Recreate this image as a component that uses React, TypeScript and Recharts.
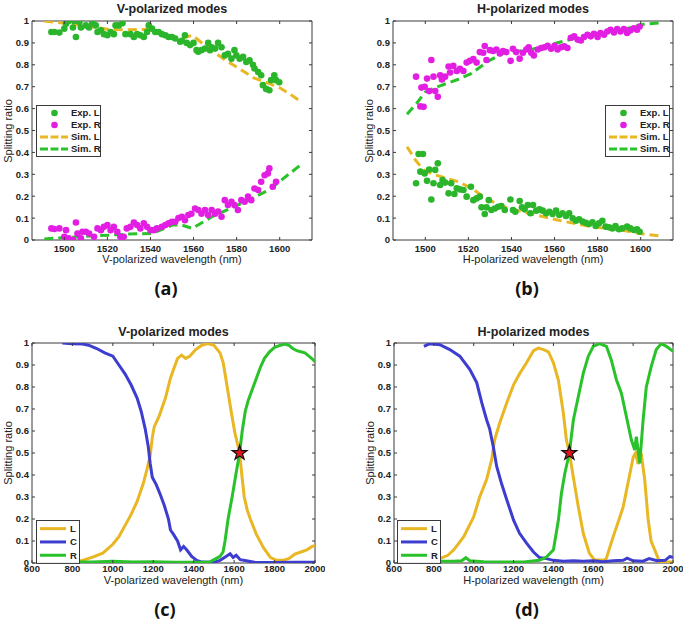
import { ComposedChart, Line, Scatter, XAxis, YAxis, ReferenceArea } from "recharts";

type Pt = [number, number];

// ---- (a) V-polarized, experiment vs simulation ----
const aExpL: Pt[] = [
  [1494, 0.95], [1495.4, 0.95], [1497.7, 0.947], [1500, 0.965], [1500.8, 0.988], [1502, 1.0], [1504, 0.97],
  [1505.4, 0.927], [1504.6, 1.0], [1507, 0.995], [1507.7, 0.97], [1510, 0.98], [1511.5, 0.97], [1513, 0.99],
  [1514.6, 0.98], [1515.4, 0.95], [1517, 0.957], [1518.4, 0.94], [1520, 0.935], [1521.5, 0.95], [1523, 0.94],
  [1523.8, 0.98], [1525.3, 0.98], [1527, 0.99], [1528.4, 0.94], [1530.7, 0.94], [1532.3, 0.927], [1533.8, 0.94],
  [1535.3, 0.935], [1536.9, 0.927], [1538.4, 0.95], [1539.2, 0.98], [1540.7, 0.965], [1542.2, 0.95], [1543.8, 0.95],
  [1545.3, 0.94], [1546.9, 0.935], [1548.4, 0.927], [1550, 0.927], [1551.5, 0.92], [1553.8, 0.905], [1554.6, 0.91],
  [1556, 0.935], [1556.8, 0.9], [1558.4, 0.89], [1560, 0.9], [1561.4, 0.867], [1562.2, 0.86], [1563.7, 0.867],
  [1565.3, 0.874], [1566.8, 0.9], [1567.6, 0.867], [1568.4, 0.88], [1570, 0.874], [1571.4, 0.9], [1573, 0.88],
  [1574.5, 0.843], [1576, 0.85], [1577.6, 0.828], [1579, 0.867], [1579.9, 0.843], [1581.4, 0.828], [1583, 0.836],
  [1584.5, 0.813], [1586, 0.82], [1587.6, 0.8], [1588.3, 0.783], [1590, 0.767], [1591.4, 0.752], [1592.2, 0.707],
  [1593.7, 0.69], [1595.2, 0.684], [1596, 0.73], [1597.5, 0.752], [1598.3, 0.73], [1599.8, 0.72],
];
const aExpR: Pt[] = [
  [1494, 0.053], [1495.4, 0.05], [1497.7, 0.053], [1500, 0.015], [1500.8, 0.045], [1502, 0.008], [1504, 0.0],
  [1505.4, 0.08], [1506.1, 0.03], [1507.7, 0.008], [1508.4, 0.038], [1510, 0.038], [1511.5, 0.03], [1513.8, 0.015],
  [1515.4, 0.053], [1517, 0.045], [1518.4, 0.06], [1520, 0.068], [1521.5, 0.045], [1523, 0.06], [1524.6, 0.038],
  [1526, 0.015], [1527.6, 0.015], [1529, 0.053], [1530.7, 0.06], [1532.3, 0.08], [1533.8, 0.068], [1535.3, 0.053],
  [1536.9, 0.076], [1538.4, 0.06], [1540, 0.045], [1541.5, 0.045], [1543, 0.053], [1545.3, 0.06], [1546.9, 0.068],
  [1548.4, 0.076], [1550, 0.083], [1551.5, 0.083], [1553, 0.1], [1554.6, 0.106], [1556, 0.09], [1557.6, 0.114],
  [1559, 0.12], [1560.7, 0.144], [1562.2, 0.137], [1563.7, 0.12], [1565.3, 0.137], [1566.8, 0.114], [1568.4, 0.137],
  [1570, 0.12], [1571.4, 0.13], [1573, 0.106], [1574.5, 0.182], [1576, 0.16], [1577.6, 0.175], [1579, 0.16],
  [1580.6, 0.137], [1582.2, 0.182], [1583.7, 0.175], [1585.3, 0.198], [1586.8, 0.182], [1588.3, 0.235],
  [1590, 0.228], [1591.4, 0.266], [1593, 0.296], [1594.5, 0.304], [1595.2, 0.327], [1596.8, 0.243], [1598.3, 0.266],
];
const aSimL: Pt[] = [
  [1490.7, 1.0], [1500, 0.99], [1510, 0.978], [1520, 0.962], [1530, 0.96], [1539, 0.962], [1545, 0.94],
  [1550, 0.925], [1556, 0.925], [1559.5, 0.935], [1565, 0.89], [1570, 0.855], [1575, 0.82], [1580, 0.79],
  [1588, 0.74], [1595, 0.715], [1600, 0.695], [1605, 0.665], [1610, 0.63],
];
const aSimR: Pt[] = [
  [1490.7, 0.005], [1507, 0.015], [1530, 0.027], [1540.9, 0.03], [1550.1, 0.068], [1554.7, 0.068],
  [1559.4, 0.053], [1568.7, 0.107], [1584.1, 0.175], [1594.9, 0.228], [1609.6, 0.342],
];

// ---- (b) H-polarized, experiment vs simulation ----
const bExpR: Pt[] = [
  [1495.7, 0.746], [1498.2, 0.696], [1499.7, 0.7], [1497.7, 0.61], [1499.2, 0.608], [1500.8, 0.737], [1502.8, 0.822],
  [1501.8, 0.68], [1503.8, 0.746], [1504.6, 0.68], [1505.8, 0.654], [1506.9, 0.752], [1507.7, 0.733], [1509.2, 0.746],
  [1510.8, 0.792], [1511.5, 0.765], [1513, 0.795], [1514.6, 0.772], [1516.1, 0.782], [1517.7, 0.772], [1519.2, 0.81],
  [1520.7, 0.818], [1522.3, 0.826], [1523.8, 0.81], [1525.3, 0.858], [1526.9, 0.855], [1527.6, 0.886], [1528.4, 0.822],
  [1530, 0.867], [1531.5, 0.863], [1533, 0.87], [1534.6, 0.852], [1536.1, 0.863], [1537.6, 0.858], [1539.6, 0.818],
  [1540.7, 0.873], [1542.2, 0.858], [1543.8, 0.828], [1545.3, 0.855], [1546.9, 0.87], [1548, 0.88], [1549.2, 0.855],
  [1550.4, 0.843], [1552.2, 0.87], [1553.8, 0.877], [1555.3, 0.88], [1556.8, 0.887], [1558.4, 0.873], [1560, 0.887],
  [1561.4, 0.87], [1563, 0.88], [1564.5, 0.884], [1566, 0.877], [1567.6, 0.923], [1569.1, 0.93], [1570.7, 0.915],
  [1572.2, 0.911], [1573.7, 0.927], [1575.3, 0.937], [1576.8, 0.93], [1578.3, 0.942], [1580, 0.927], [1581.4, 0.945],
  [1583, 0.937], [1584.5, 0.952], [1586, 0.96], [1587.6, 0.948], [1589.1, 0.963], [1590.6, 0.952], [1592.2, 0.963],
  [1593.7, 0.945], [1595.2, 0.957], [1596.8, 0.967], [1598.3, 0.96], [1599.5, 0.975],
];
const bExpL: Pt[] = [
  [1495.7, 0.259], [1496.9, 0.393], [1498.9, 0.393], [1497.7, 0.312], [1499.7, 0.304], [1500.8, 0.27], [1501.8, 0.322],
  [1502.8, 0.185], [1503.8, 0.259], [1504.6, 0.32], [1505.8, 0.35], [1506.9, 0.251], [1508, 0.274], [1509.2, 0.262],
  [1510.8, 0.213], [1512, 0.259], [1513.5, 0.21], [1514.6, 0.236], [1516.1, 0.231], [1517.7, 0.228], [1519.2, 0.198],
  [1521.2, 0.243], [1522.3, 0.182], [1523.8, 0.19], [1525.3, 0.198], [1526.1, 0.149], [1527.6, 0.119], [1528.4, 0.149],
  [1529.5, 0.182], [1530.7, 0.137], [1532.3, 0.144], [1533.8, 0.152], [1535.3, 0.155], [1536.9, 0.137], [1539.5, 0.185],
  [1540.7, 0.137], [1541.8, 0.129], [1543.8, 0.178], [1544.9, 0.149], [1546.1, 0.14], [1547.6, 0.16], [1548.8, 0.122],
  [1550, 0.16], [1551.5, 0.134], [1553, 0.14], [1554.5, 0.134], [1556.1, 0.122], [1557.6, 0.129], [1559.1, 0.119],
  [1560.7, 0.134], [1562.2, 0.114], [1563.7, 0.122], [1565.3, 0.11], [1566.8, 0.122], [1568.4, 0.099], [1569.9, 0.088],
  [1571.4, 0.095], [1573, 0.084], [1574.5, 0.079], [1576, 0.073], [1577.6, 0.081], [1579.1, 0.064], [1580.6, 0.076],
  [1582.2, 0.088], [1583.7, 0.061], [1585.3, 0.058], [1586.8, 0.053], [1588.3, 0.064], [1589.9, 0.049], [1591.4, 0.053],
  [1593.7, 0.061], [1595.2, 0.053], [1596.8, 0.046], [1598.3, 0.049], [1599.5, 0.038],
];
const bSimL: Pt[] = [
  [1491.5, 0.426], [1495.4, 0.365], [1499.2, 0.32], [1504.6, 0.297], [1515.4, 0.266], [1521.5, 0.236],
  [1529.2, 0.183], [1538.4, 0.145], [1549.2, 0.119], [1561.4, 0.091], [1576.8, 0.061], [1592.2, 0.043],
  [1601.4, 0.027], [1609.8, 0.018],
];
const bSimR: Pt[] = [
  [1491.5, 0.574], [1496.2, 0.627], [1500, 0.676], [1504.6, 0.696], [1515.4, 0.734], [1521.5, 0.761],
  [1529.2, 0.817], [1536.9, 0.855], [1549.2, 0.87], [1561.4, 0.901], [1576.8, 0.939], [1592.2, 0.962],
  [1601.4, 0.985], [1609.8, 0.992],
];

// ---- (c) V-polarized broadband ----
const cL: Pt[] = [
  [750, 0.003], [800, 0.005], [850, 0.012], [900, 0.027], [950, 0.045], [1000, 0.085], [1030, 0.12], [1060, 0.17],
  [1090, 0.22], [1120, 0.28], [1150, 0.36], [1170, 0.43], [1185, 0.49], [1195, 0.57], [1205, 0.62], [1230, 0.67],
  [1260, 0.75], [1285, 0.84], [1300, 0.88], [1320, 0.93], [1340, 0.945], [1360, 0.93], [1380, 0.94], [1410, 0.97],
  [1440, 0.99], [1470, 0.998], [1500, 0.99], [1530, 0.955], [1546, 0.91], [1562, 0.82], [1587, 0.68], [1604, 0.59],
  [1627, 0.5], [1638, 0.4], [1650, 0.3], [1665, 0.24], [1680, 0.2], [1710, 0.13], [1745, 0.07], [1780, 0.025],
  [1810, 0.012], [1840, 0.012], [1870, 0.02], [1900, 0.04], [1930, 0.05], [1960, 0.06], [1985, 0.075], [2000, 0.08],
];
const cC: Pt[] = [
  [750, 1.0], [800, 0.997], [850, 0.995], [880, 0.99], [920, 0.975], [960, 0.955], [1000, 0.94], [1030, 0.9],
  [1060, 0.86], [1090, 0.81], [1120, 0.75], [1140, 0.69], [1160, 0.61], [1175, 0.53], [1185, 0.45], [1195, 0.39],
  [1215, 0.355], [1235, 0.31], [1255, 0.26], [1275, 0.2], [1285, 0.15], [1300, 0.13], [1320, 0.1], [1335, 0.06],
  [1350, 0.075], [1365, 0.06], [1390, 0.03], [1415, 0.012], [1440, 0.004], [1500, 0.003], [1530, 0.012],
  [1560, 0.03], [1580, 0.042], [1595, 0.025], [1610, 0.035], [1630, 0.015], [1660, 0.01], [1700, 0.003],
  [1800, 0.002], [1900, 0.003], [2000, 0.003],
];
const cR: Pt[] = [
  [750, 0.005], [900, 0.004], [1000, 0.008], [1100, 0.004], [1200, 0.006], [1300, 0.003], [1400, 0.003],
  [1480, 0.005], [1510, 0.02], [1530, 0.03], [1545, 0.05], [1555, 0.1], [1570, 0.2], [1590, 0.3], [1610, 0.41],
  [1627, 0.5], [1640, 0.6], [1655, 0.69], [1670, 0.74], [1690, 0.79], [1710, 0.84], [1730, 0.89], [1750, 0.93],
  [1775, 0.96], [1800, 0.98], [1830, 0.99], [1850, 0.995], [1870, 0.99], [1890, 0.975], [1910, 0.965],
  [1930, 0.96], [1950, 0.955], [1970, 0.94], [1990, 0.925], [2000, 0.915],
];
const cStar: Pt[] = [[1627, 0.5]];

// ---- (d) H-polarized broadband ----
const dL: Pt[] = [
  [750, 0.005], [800, 0.01], [830, 0.02], [870, 0.035], [900, 0.06], [950, 0.12], [1000, 0.21], [1030, 0.3],
  [1065, 0.38], [1090, 0.47], [1105, 0.56], [1130, 0.635], [1165, 0.726], [1200, 0.81], [1230, 0.86], [1265, 0.91],
  [1300, 0.965], [1325, 0.977], [1350, 0.97], [1375, 0.96], [1400, 0.91], [1425, 0.83], [1450, 0.68], [1465, 0.56],
  [1480, 0.5], [1500, 0.39], [1525, 0.255], [1550, 0.134], [1580, 0.045], [1605, 0.015], [1650, 0.012],
  [1665, 0.02], [1700, 0.12], [1730, 0.2], [1750, 0.255], [1780, 0.39], [1800, 0.48], [1812, 0.5], [1825, 0.45],
  [1840, 0.5], [1858, 0.38], [1875, 0.2], [1890, 0.1], [1915, 0.045], [1932, 0.005], [2000, 0.005],
];
const dC: Pt[] = [
  [750, 0.985], [780, 0.997], [830, 0.992], [880, 0.97], [930, 0.94], [980, 0.88], [1015, 0.82], [1040, 0.73],
  [1065, 0.65], [1080, 0.61], [1098, 0.53], [1115, 0.44], [1140, 0.36], [1165, 0.29], [1200, 0.195], [1230, 0.135],
  [1265, 0.09], [1300, 0.05], [1330, 0.025], [1365, 0.02], [1400, 0.012], [1450, 0.008], [1500, 0.01], [1550, 0.008],
  [1600, 0.01], [1650, 0.006], [1700, 0.01], [1750, 0.012], [1770, 0.022], [1800, 0.01], [1850, 0.008],
  [1880, 0.02], [1920, 0.01], [1960, 0.012], [1985, 0.03], [2000, 0.025],
];
const dR: Pt[] = [
  [750, 0.012], [800, 0.008], [900, 0.008], [940, 0.01], [960, 0.024], [980, 0.01], [1050, 0.006], [1150, 0.005],
  [1250, 0.005], [1330, 0.012], [1365, 0.027], [1400, 0.06], [1425, 0.195], [1440, 0.316], [1457, 0.407],
  [1480, 0.5], [1500, 0.65], [1525, 0.757], [1550, 0.863], [1575, 0.94], [1600, 0.985], [1632, 0.997],
  [1666, 0.985], [1690, 0.924], [1716, 0.833], [1741, 0.772], [1766, 0.666], [1791, 0.56], [1808, 0.514],
  [1816, 0.574], [1833, 0.453], [1850, 0.65], [1866, 0.8], [1891, 0.894], [1916, 0.97], [1941, 0.997],
  [1967, 0.985], [2000, 0.962],
];
const dStar: Pt[] = [[1480, 0.5]];

// axes
const narrowDomain: [number, number] = [1485, 1615];
const narrowTicks = [1500, 1520, 1540, 1560, 1580, 1600];
const wideDomain: [number, number] = [600, 2000];
const wideTicks = [600, 800, 1000, 1200, 1400, 1600, 1800, 2000];
const ratioTicks = [0, 0.1, 0.2, 0.3, 0.4, 0.5, 0.6, 0.7, 0.8, 0.9, 1];

const FONT = '"Liberation Sans", Arial, sans-serif';
const INK = "#222";
const BOX = "#3a3a3a";
const GREEN_DOT = "#2bb52b";
const MAGENTA = "#e31ee3";
const GOLD = "#e8b723";
const GREEN = "#2ac22a";
const BLUE = "#3d3dd0";

const xy = (pts: Pt[]) => pts.map(([x, y]) => ({ x, y }));

const dot = (color: string) => (p: any) => <circle cx={p.cx} cy={p.cy} r={3.3} fill={color} />;

const star = (p: any) => {
  const R = 7.8, r = 3.0;
  const pts: string[] = [];
  for (let i = 0; i < 10; i++) {
    const a = -Math.PI / 2 + (i * Math.PI) / 5;
    const rad = i % 2 === 0 ? R : r;
    pts.push(`${p.cx + rad * Math.cos(a)},${p.cy + rad * Math.sin(a)}`);
  }
  return <polygon points={pts.join(" ")} fill="#e8141c" stroke="#111" strokeWidth={1.2} />;
};

type Geo = { x: number; y: number; w: number; h: number };
type LegendItem = { label: string; kind: "dot" | "dash" | "line"; color: string };

const M = { top: 20, right: 10, bottom: 0, left: 0 };
const YW = 40;
const XH = 40;

function Legend({ left, top, width, rowH, items }: { left: number; top: number; width: number; rowH: number; items: LegendItem[] }) {
  const h = rowH * items.length + 4;
  return (
    <svg style={{ position: "absolute", left, top }} width={width} height={h}>
      <rect x={0.5} y={0.5} width={width - 1} height={h - 1} fill="#fff" stroke={BOX} />
      {items.map((it, i) => {
        const cy = 2 + rowH * i + rowH / 2;
        return (
          <g key={it.label}>
            {it.kind === "dot" && <circle cx={18.5} cy={cy} r={3.3} fill={it.color} />}
            {it.kind === "dash" && (
              <line x1={4} x2={32} y1={cy} y2={cy} stroke={it.color} strokeWidth={3} strokeDasharray="8 2.5" />
            )}
            {it.kind === "line" && <line x1={4} x2={30} y1={cy} y2={cy} stroke={it.color} strokeWidth={3} />}
            <text x={it.kind === "line" ? 34 : 35} y={cy + 3.4} fontSize={9.5} fontWeight="bold" fontFamily={FONT} fill={INK}>
              {it.label}
            </text>
          </g>
        );
      })}
    </svg>
  );
}

function Panel({
  geo, domain, ticks, title, xTitle, xTickDy, titleY, xTitleY, caption, captionX, captionY, children, legend,
}: {
  geo: Geo; domain: [number, number]; ticks: number[]; title: string; xTitle: string; xTickDy: number;
  titleY: number; xTitleY: number; caption: string; captionX: number; captionY: number;
  children: React.ReactNode; legend: React.ReactNode;
}) {
  const top = M.top;
  const bottom = M.top + geo.h;
  const left = YW;
  const right = YW + geo.w;
  const cx = geo.x + geo.w / 2;

  const XTick = (p: any) => (
    <g>
      <line x1={p.x} x2={p.x} y1={bottom} y2={bottom - 3} stroke={BOX} />
      <line x1={p.x} x2={p.x} y1={top} y2={top + 3} stroke={BOX} />
      <text x={p.x} y={bottom + xTickDy} textAnchor="middle" fontSize={9.5} fontWeight="bold" fontFamily={FONT} fill={INK}>
        {p.payload.value}
      </text>
    </g>
  );
  const YTick = (p: any) => (
    <g>
      <line x1={left} x2={left + 3} y1={p.y} y2={p.y} stroke={BOX} />
      <line x1={right} x2={right - 3} y1={p.y} y2={p.y} stroke={BOX} />
      <text x={left - 3} y={p.y + 3.4} textAnchor="end" fontSize={9.5} fontWeight="bold" fontFamily={FONT} fill={INK}>
        {String(Number(Number(p.payload.value).toFixed(1)))}
      </text>
    </g>
  );

  const center = { position: "absolute" as const, transform: "translate(-50%, -50%)", whiteSpace: "nowrap" as const };

  return (
    <>
      <div style={{ position: "absolute", left: geo.x - YW, top: geo.y - M.top }}>
        <ComposedChart width={geo.w + YW + M.right} height={geo.h + M.top + XH} margin={M}>
          <XAxis type="number" dataKey="x" domain={domain} ticks={ticks} interval={0} allowDataOverflow
            height={XH} tickLine={false} axisLine={false} tick={XTick} />
          <YAxis type="number" dataKey="y" domain={[0, 1]} ticks={ratioTicks} interval={0} allowDataOverflow
            width={YW} tickLine={false} axisLine={false} tick={YTick} />
          <ReferenceArea x1={domain[0]} x2={domain[1]} y1={0} y2={1} fill="none" stroke={BOX} strokeOpacity={1} />
          {children}
        </ComposedChart>
      </div>
      {legend}
      <div style={{ ...center, left: cx, top: titleY, fontSize: 12.5, fontWeight: "bold", color: INK }}>{title}</div>
      <div style={{ ...center, left: cx, top: xTitleY, fontSize: 11, color: INK }}>{xTitle}</div>
      <div style={{ ...center, left: geo.x - 24, top: geo.y + geo.h / 2, fontSize: 11, color: INK, transform: "translate(-50%, -50%) rotate(-90deg)" }}>
        Splitting ratio
      </div>
      <div style={{ ...center, left: captionX, top: captionY, fontSize: 18, fontWeight: "bold", fontFamily: '"Open Sans", sans-serif', color: "#111" }}>
        {caption}
      </div>
    </>
  );
}

const expSimLegend: LegendItem[] = [
  { label: "Exp. L", kind: "dot", color: GREEN_DOT },
  { label: "Exp. R", kind: "dot", color: MAGENTA },
  { label: "Sim. L", kind: "dash", color: GOLD },
  { label: "Sim. R", kind: "dash", color: GREEN },
];
const lcrLegend: LegendItem[] = [
  { label: "L", kind: "line", color: GOLD },
  { label: "C", kind: "line", color: BLUE },
  { label: "R", kind: "line", color: GREEN },
];

export default function App() {
  const dash = { strokeWidth: 3, strokeDasharray: "9 5", dot: false, isAnimationActive: false, type: "linear" as const };
  const solid = { strokeWidth: 3, dot: false, isAnimationActive: false, type: "linear" as const };
  return (
    <div style={{ position: "absolute", left: 0, top: 0, width: 685, height: 622, background: "#fff", overflow: "hidden", fontFamily: FONT }}>
      <Panel geo={{ x: 32, y: 21, w: 280, h: 219 }} domain={narrowDomain} ticks={narrowTicks}
        title="V-polarized modes" xTitle="V-polarized wavelength (nm)" xTickDy={11.8} titleY={8.5} xTitleY={258.5}
        caption="(a)" captionX={166} captionY={288}
        legend={<Legend left={36} top={105} width={65} rowH={12} items={expSimLegend} />}>
        <Scatter data={xy(aExpL)} shape={dot(GREEN_DOT)} isAnimationActive={false} />
        <Scatter data={xy(aExpR)} shape={dot(MAGENTA)} isAnimationActive={false} />
        <Line data={xy(aSimL)} dataKey="y" stroke={GOLD} {...dash} />
        <Line data={xy(aSimR)} dataKey="y" stroke={GREEN} {...dash} />
      </Panel>
      <Panel geo={{ x: 393, y: 21, w: 280, h: 219 }} domain={narrowDomain} ticks={narrowTicks}
        title="H-polarized modes" xTitle="H-polarized wavelength (nm)" xTickDy={11.8} titleY={8.5} xTitleY={258.5}
        caption="(b)" captionX={527} captionY={288}
        legend={<Legend left={605} top={105} width={65} rowH={12} items={expSimLegend} />}>
        <Scatter data={xy(bExpL)} shape={dot(GREEN_DOT)} isAnimationActive={false} />
        <Scatter data={xy(bExpR)} shape={dot(MAGENTA)} isAnimationActive={false} />
        <Line data={xy(bSimL)} dataKey="y" stroke={GOLD} {...dash} />
        <Line data={xy(bSimR)} dataKey="y" stroke={GREEN} {...dash} />
      </Panel>
      <Panel geo={{ x: 32, y: 343, w: 283, h: 220 }} domain={wideDomain} ticks={wideTicks}
        title="V-polarized modes" xTitle="V-polarized wavelength (nm)" xTickDy={9} titleY={332} xTitleY={580}
        caption="(c)" captionX={165} captionY={609}
        legend={<Legend left={36} top={520} width={44} rowH={13.3} items={lcrLegend} />}>
        <Line data={xy(cL)} dataKey="y" stroke={GOLD} {...solid} />
        <Line data={xy(cC)} dataKey="y" stroke={BLUE} {...solid} />
        <Line data={xy(cR)} dataKey="y" stroke={GREEN} {...solid} />
        <Scatter data={xy(cStar)} shape={star} isAnimationActive={false} />
      </Panel>
      <Panel geo={{ x: 394, y: 343, w: 279, h: 220 }} domain={wideDomain} ticks={wideTicks}
        title="H-polarized modes" xTitle="H-polarized wavelength (nm)" xTickDy={9} titleY={332} xTitleY={580}
        caption="(d)" captionX={527} captionY={609}
        legend={<Legend left={397} top={520} width={44} rowH={13.3} items={lcrLegend} />}>
        <Line data={xy(dL)} dataKey="y" stroke={GOLD} {...solid} />
        <Line data={xy(dC)} dataKey="y" stroke={BLUE} {...solid} />
        <Line data={xy(dR)} dataKey="y" stroke={GREEN} {...solid} />
        <Scatter data={xy(dStar)} shape={star} isAnimationActive={false} />
      </Panel>
    </div>
  );
}
